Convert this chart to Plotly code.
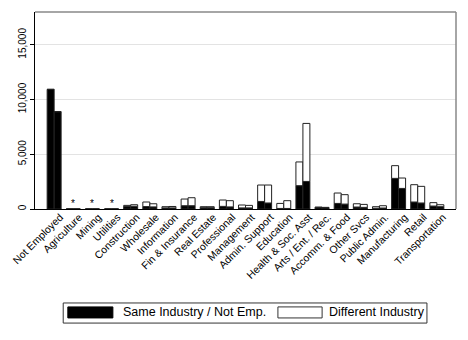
import plotly.graph_objects as go

# industries on the x axis
categories = ["Not Employed", "Agriculture", "Mining", "Utilities", "Construction",
              "Wholesale", "Information", "Fin & Insurance", "Real Estate",
              "Professional", "Management", "Admin. Support", "Education",
              "Health & Soc. Asst", "Arts / Ent. / Rec.", "Accomm. & Food",
              "Other Svcs", "Public Admin.", "Manufacturing", "Retail",
              "Transportation"]

# first bar of each pair
same_a = [10930, 0, 0, 0, 220, 220, 100, 300, 120, 240, 100, 690, 50, 2130, 130,
          510, 180, 70, 2800, 640, 270]
diff_a = [0, 0, 0, 0, 110, 420, 110, 610, 90, 580, 265, 1500, 460, 2170, 50,
          950, 300, 140, 1160, 1580, 310]

# second bar of each pair
same_b = [8890, 0, 0, 0, 250, 190, 100, 300, 120, 190, 100, 550, 50, 2520, 110,
          450, 150, 90, 1880, 550, 210]
diff_b = [0, 0, 0, 0, 140, 290, 130, 730, 90, 570, 230, 1640, 710, 5300, 40,
          860, 270, 210, 950, 1520, 180]

suppressed = ["Agriculture", "Mining", "Utilities"]

FONT = "Arial, Liberation Sans, sans-serif"
edge = dict(color="#222222", width=1)

fig = go.Figure()
fig.add_trace(go.Bar(x=categories, y=same_a, offsetgroup="a",
                     marker=dict(color="black", line=edge)))
fig.add_trace(go.Bar(x=categories, y=diff_a, base=same_a, offsetgroup="a",
                     marker=dict(color="white", line=edge)))
fig.add_trace(go.Bar(x=categories, y=same_b, offsetgroup="b",
                     marker=dict(color="black", line=edge)))
fig.add_trace(go.Bar(x=categories, y=diff_b, base=same_b, offsetgroup="b",
                     marker=dict(color="white", line=edge)))

# asterisks for suppressed industries
for c in suppressed:
    fig.add_annotation(x=c, y=0, text="*", showarrow=False, yanchor="middle",
                       yshift=6, font=dict(family=FONT, size=10, color="black"))

# hand-made legend below the plot
fig.add_shape(type="rect", xref="paper", yref="paper", x0=0.067, x1=0.931,
              y0=-0.579, y1=-0.477, line=dict(color="#333", width=1),
              fillcolor="white")
fig.add_shape(type="rect", xref="paper", yref="paper", x0=0.078, x1=0.185,
              y0=-0.553, y1=-0.497, line=dict(color="black", width=1),
              fillcolor="black")
fig.add_shape(type="rect", xref="paper", yref="paper", x0=0.577, x1=0.682,
              y0=-0.553, y1=-0.497, line=dict(color="#333", width=1),
              fillcolor="white")
fig.add_annotation(xref="paper", yref="paper", x=0.2035, y=-0.525,
                   xanchor="left", yanchor="middle", showarrow=False,
                   text="Same Industry / Not Emp.",
                   font=dict(family=FONT, size=12.5, color="black"))
fig.add_annotation(xref="paper", yref="paper", x=0.694, y=-0.525,
                   xanchor="left", yanchor="middle", showarrow=False,
                   text="Different Industry",
                   font=dict(family=FONT, size=12.5, color="black"))

# grey top and right frame lines
fig.add_shape(type="line", xref="paper", yref="paper", x0=0, x1=1, y0=1, y1=1,
              line=dict(color="#888", width=1.5))
fig.add_shape(type="line", xref="paper", yref="paper", x0=1, x1=1, y0=0, y1=1,
              line=dict(color="#888", width=1.5))

# the page body adds an 8px margin, so the figure is a little smaller
fig.update_layout(
    width=460, height=332,
    margin=dict(l=27, r=12, t=4, b=131, autoexpand=False),
    barmode="group", bargap=0.27, bargroupgap=0,
    showlegend=False,
    plot_bgcolor="white", paper_bgcolor="white",
    font=dict(family=FONT, color="black"),
    xaxis=dict(type="category", range=[-1, 21], tickangle=-45,
               tickfont=dict(size=10.5), showline=True, linecolor="black",
               linewidth=1, showgrid=False, ticks="", automargin=False,
               ticklabelshift=6, ticklabelstandoff=-3),
    yaxis=dict(range=[0, 18000], tickvals=[0, 5000, 10000, 15000],
               tickformat=",", tickangle=-90, tickfont=dict(size=10),
               showline=True, linecolor="black", linewidth=1,
               ticks="outside", ticklen=4, tickcolor="black",
               showgrid=True, gridcolor="#e3e3e3", gridwidth=1,
               zeroline=False, automargin=False),
)

fig.write_html("out.html")
